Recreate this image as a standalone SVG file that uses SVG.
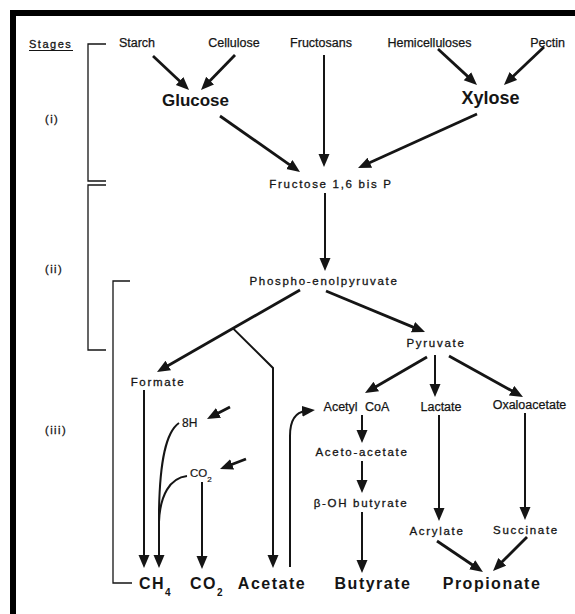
<svg xmlns="http://www.w3.org/2000/svg" width="575" height="614" viewBox="0 0 575 614">
<style>
text{font-family:"Liberation Sans",Arial,sans-serif;fill:#151515}
.src{font-size:12.5px;stroke:#151515;stroke-width:0.25px}
.sp{font-size:11.5px;letter-spacing:1.7px;stroke:#151515;stroke-width:0.3px}
.stg{font-size:11px;letter-spacing:1.5px;stroke:#151515;stroke-width:0.3px}
.big{font-size:17px;font-weight:bold}
.fin{font-size:16px;font-weight:bold;letter-spacing:1.5px}
.sm{font-size:12px;stroke:#151515;stroke-width:0.2px}
.c{text-anchor:middle}
.ln{fill:none;stroke:#151515;stroke-width:2.8}
.vl{fill:none;stroke:#151515;stroke-width:2}
.br{fill:none;stroke:#151515;stroke-width:1.3}
</style>
<defs>
<marker id="ah" markerUnits="userSpaceOnUse" markerWidth="14" markerHeight="12" refX="4" refY="5.5" orient="auto">
<path d="M0,0 L13,5.5 L0,11 z" fill="#151515"/>
</marker>
</defs>
<rect width="575" height="614" fill="#fff"/>
<g id="frame">
<rect x="10" y="10" width="565" height="6" fill="#000"/>
<rect x="10" y="10" width="6" height="604" fill="#000"/>
</g>
<g id="stages">
<text class="stg" x="29" y="48">Stages</text>
<line x1="29" y1="50.5" x2="73" y2="50.5" stroke="#151515" stroke-width="1"/>
<text class="stg" x="45" y="123">(i)</text>
<text class="stg" x="45" y="273">(ii)</text>
<text class="stg" x="45" y="434">(iii)</text>
<polyline class="br" points="106,44 88,44 88,181 106,181"/>
<polyline class="br" points="106,185 88,185 88,350 106,350"/>
<polyline class="br" points="130,281 113,281 113,583 132,583"/>
</g>
<g id="connectors">
<line class="ln" x1="153" y1="56" x2="182.5" y2="83.8" marker-end="url(#ah)"/>
<line class="ln" x1="235" y1="55" x2="207.3" y2="83.5" marker-end="url(#ah)"/>
<line class="ln" x1="220" y1="116" x2="292.6" y2="166.8" marker-end="url(#ah)"/>
<line class="vl" x1="324" y1="55" x2="324" y2="158" marker-end="url(#ah)"/>
<line class="ln" x1="438" y1="49" x2="470.4" y2="78.9" marker-end="url(#ah)"/>
<line class="ln" x1="544" y1="47" x2="510.5" y2="78.8" marker-end="url(#ah)"/>
<line class="ln" x1="477" y1="114" x2="366.2" y2="164.3" marker-end="url(#ah)"/>
<line class="vl" x1="325" y1="193" x2="325" y2="262" marker-end="url(#ah)"/>
<line class="ln" x1="300" y1="290" x2="164.8" y2="367.5" marker-end="url(#ah)"/>
<polyline class="vl" points="233,328.4 273,368 273,559" marker-end="url(#ah)"/>
<line class="ln" x1="326" y1="291" x2="416.7" y2="328.6" marker-end="url(#ah)"/>
<line class="ln" x1="427" y1="357" x2="372.8" y2="388.5" marker-end="url(#ah)"/>
<line class="vl" x1="435" y1="355" x2="435" y2="388" marker-end="url(#ah)"/>
<line class="ln" x1="449" y1="356" x2="515.1" y2="392.6" marker-end="url(#ah)"/>
<line class="vl" x1="362" y1="415" x2="362" y2="434" marker-end="url(#ah)"/>
<line class="vl" x1="362" y1="461" x2="362" y2="484" marker-end="url(#ah)"/>
<line class="vl" x1="362" y1="512" x2="362" y2="564" marker-end="url(#ah)"/>
<line class="vl" x1="439" y1="415" x2="439" y2="512" marker-end="url(#ah)"/>
<line class="vl" x1="525" y1="413" x2="525" y2="511" marker-end="url(#ah)"/>
<line class="ln" x1="437" y1="541" x2="475.5" y2="567" marker-end="url(#ah)"/>
<line class="ln" x1="527" y1="537" x2="499.4" y2="564.6" marker-end="url(#ah)"/>
<line class="vl" x1="144" y1="390" x2="144" y2="559" marker-end="url(#ah)"/>
<path class="vl" d="M179,423 C166,432 160,460 159,510 L159,559" marker-end="url(#ah)"/>
<path class="vl" d="M187,476 C170,478 160,495 159,522"/>
<line class="ln" x1="230" y1="407" x2="215" y2="414.8" marker-end="url(#ah)"/>
<line class="ln" x1="246" y1="459" x2="228.4" y2="465.8" marker-end="url(#ah)"/>
<line class="vl" x1="202" y1="482" x2="202" y2="560" marker-end="url(#ah)"/>
<path class="vl" d="M290,567 L290,436 C290,420 296,412 306,411" marker-end="url(#ah)"/>
</g>
<g id="starch"><text class="src c" x="137" y="46.5">Starch</text></g>
<g id="cellulose"><text class="src c" x="234" y="46.5">Cellulose</text></g>
<g id="fructosans"><text class="src c" x="321" y="46.5">Fructosans</text></g>
<g id="hemicelluloses"><text class="src c" x="429.5" y="46.5">Hemicelluloses</text></g>
<g id="pectin"><text class="src c" x="547.5" y="46.5">Pectin</text></g>
<g id="glucose"><text class="big c" x="195.5" y="106">Glucose</text></g>
<g id="xylose"><text class="big c" x="490.5" y="103.5" style="font-size:18px">Xylose</text></g>
<g id="fructose16"><text class="sp c" x="331" y="188">Fructose 1,6 bis P</text></g>
<g id="pep"><text class="sp c" x="324" y="285">Phospho-enolpyruvate</text></g>
<g id="pyruvate"><text class="sp c" x="436" y="347">Pyruvate</text></g>
<g id="formate"><text class="sp c" x="158" y="386">Formate</text></g>
<g id="acetylcoa"><text class="src c" x="356.5" y="410.5" style="word-spacing:4px">Acetyl CoA</text></g>
<g id="lactate"><text class="src c" x="441" y="410.5">Lactate</text></g>
<g id="oxaloacetate"><text class="src c" x="529.5" y="408.5">Oxaloacetate</text></g>
<g id="acetoacetate"><text class="sp c" x="362" y="456">Aceto-acetate</text></g>
<g id="bohbutyrate"><text class="sp c" x="361" y="507">β-OH butyrate</text></g>
<g id="acrylate"><text class="sp c" x="437" y="535">Acrylate</text></g>
<g id="succinate"><text class="sp c" x="526" y="534">Succinate</text></g>
<g id="h8"><text class="sm" x="182" y="427">8H</text></g>
<g id="co2in"><text class="sm" x="190" y="477" style="font-size:11.5px">CO<tspan dy="5" style="font-size:8px">2</tspan></text></g>
<g id="ch4"><text class="fin" x="139" y="589">CH<tspan dy="7" style="font-size:10px">4</tspan></text></g>
<g id="co2"><text class="fin" x="190" y="589">CO<tspan dy="7" style="font-size:10px">2</tspan></text></g>
<g id="acetate"><text class="fin c" x="272" y="589">Acetate</text></g>
<g id="butyrate"><text class="fin c" x="373" y="589">Butyrate</text></g>
<g id="propionate"><text class="fin c" x="492" y="589">Propionate</text></g>
</svg>
